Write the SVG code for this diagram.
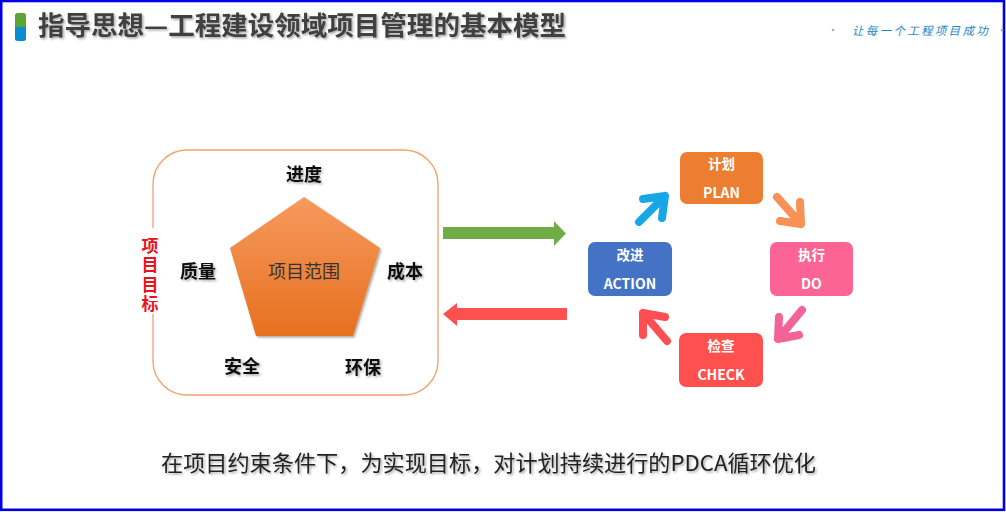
<svg xmlns="http://www.w3.org/2000/svg" width="1006" height="512" viewBox="0 0 1006 512">
<style>
.cjk{font-family:"Noto Sans CJK SC","Liberation Sans",sans-serif}
.lbl{font-family:"Noto Sans CJK SC",sans-serif;font-weight:bold;font-size:18px;fill:#111;text-anchor:middle}
.btxt{font-family:"Noto Sans CJK SC","Liberation Sans",sans-serif;font-weight:bold;fill:#fff;text-anchor:middle}
.cyc{fill:none;stroke-width:8;stroke-linecap:round;stroke-linejoin:round}
</style>
<defs>
<linearGradient id="pg" x1="0" y1="0" x2="0" y2="1">
<stop offset="0" stop-color="#f59a5e"/>
<stop offset="1" stop-color="#e8701f"/>
</linearGradient>
<filter id="sh" x="-20%" y="-20%" width="140%" height="140%">
<feDropShadow dx="1.5" dy="1.5" stdDeviation="1.2" flood-color="#000" flood-opacity="0.35"/>
</filter>
</defs>
<rect x="0" y="0" width="1006" height="512" fill="#fff"/>
<rect x="1.2" y="1" width="1002.8" height="508.8" fill="none" stroke="#0000e6" stroke-width="2.6"/>

<g id="header">
<rect x="15" y="13" width="11" height="16" rx="2.5" fill="#5aa532"/>
<rect x="15" y="27" width="11" height="14" rx="2.5" fill="#0a8cd2"/>
<rect x="15" y="27" width="11" height="3" fill="#0a8cd2"/>
<text x="38" y="35" class="cjk" font-size="26" font-weight="bold" fill="#3f3f3f" filter="url(#sh)" textLength="528" lengthAdjust="spacingAndGlyphs">指导思想—工程建设领域项目管理的基本模型</text>
<circle cx="833" cy="30" r="1.3" fill="#aaa"/>
<circle cx="1002" cy="30" r="1.3" fill="#aaa"/>
<text x="852" y="34.5" class="cjk" font-size="11.5" font-style="italic" letter-spacing="2.3" fill="#1e86c9">让每一个工程项目成功</text>
</g>

<g id="goal-panel">
<rect x="153" y="150" width="285" height="245" rx="34" fill="none" stroke="#f2a06a" stroke-width="1.3"/>
<rect x="140" y="228" width="22" height="86" fill="#fff"/>
<text x="150" y="237" class="cjk" font-size="17" font-weight="bold" fill="#e8141c" writing-mode="tb" glyph-orientation-vertical="0" letter-spacing="2.3">项目目标</text>
</g>

<g id="scope">
<polygon points="304,197 380,248 353,336 256,336 230,248" fill="url(#pg)" filter="url(#sh)"/>
<text x="304" y="278" class="cjk" font-size="18" fill="#333" text-anchor="middle">项目范围</text>
</g>
<g id="labels" filter="url(#sh)">
<text x="304" y="181" class="lbl">进度</text>
<text x="198" y="278" class="lbl">质量</text>
<text x="405" y="278" class="lbl">成本</text>
<text x="242" y="373" class="lbl">安全</text>
<text x="363" y="374" class="lbl">环保</text>
</g>

<g id="connectors">
<polygon points="443,227 554,227 554,221 566,233.5 554,246 554,239 443,239" fill="#70ad47"/>
<polygon points="567,308 457,308 457,303 443,314 457,326 457,320 567,320" fill="#ff5050"/>
<path class="cyc" stroke="#17a6e8" d="M639,222 L665,196 M643,199 L665,196 L662,218"/>
<path class="cyc" stroke="#f79155" d="M777,197 L801,224 M800,202 L801,224 L780,221"/>
<path class="cyc" stroke="#f36397" d="M802,310 L778,339 M779,317 L778,339 L799,335"/>
<path class="cyc" stroke="#ff4f52" d="M667,341 L643,313 M643,335 L643,313 L665,317"/>
</g>

<g id="plan">
<rect x="680" y="152" width="83" height="52" rx="7" fill="#ed7d31"/>
<text x="721.5" y="169" class="btxt" font-size="13.5">计划</text>
<text x="721.5" y="198" class="btxt" font-size="14">PLAN</text>
</g>
<g id="do">
<rect x="770" y="242" width="83" height="54" rx="7" fill="#fb6494"/>
<text x="811.5" y="260" class="btxt" font-size="13.5">执行</text>
<text x="811.5" y="289" class="btxt" font-size="14">DO</text>
</g>
<g id="check">
<rect x="679" y="333" width="84" height="54" rx="7" fill="#ff5050"/>
<text x="721" y="351" class="btxt" font-size="13.5">检查</text>
<text x="721" y="380" class="btxt" font-size="14">CHECK</text>
</g>
<g id="action">
<rect x="588" y="242" width="84" height="54" rx="7" fill="#4472c4"/>
<text x="630" y="260" class="btxt" font-size="13.5">改进</text>
<text x="630" y="289" class="btxt" font-size="14">ACTION</text>
</g>

<g id="caption">
<text x="161" y="471" class="cjk" font-size="22" fill="#222" filter="url(#sh)" textLength="655" lengthAdjust="spacingAndGlyphs">在项目约束条件下，为实现目标，对计划持续进行的PDCA循环优化</text>
</g>
</svg>
